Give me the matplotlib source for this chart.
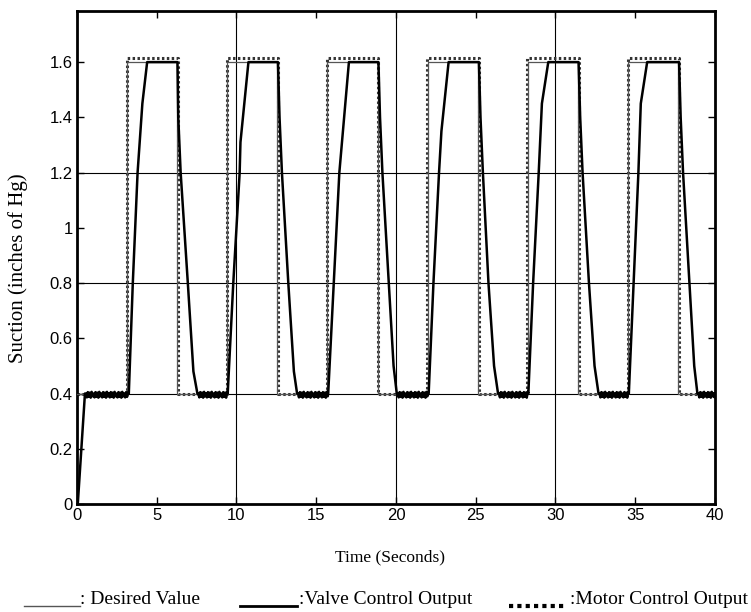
import numpy as np
import matplotlib.pyplot as plt
from matplotlib.lines import Line2D

# desired value: square wave edges (seconds), low / high levels
rise_times = [3.15, 9.42, 15.7, 22.0, 28.25, 34.55]
fall_times = [6.3, 12.57, 18.85, 25.15, 31.4, 37.7]
low_level = 0.4
high_level = 1.6
motor_high = 1.615

# valve control output, key points
valve_t = [0.0, 0.05, 0.5,
           3.25, 3.5, 3.8, 4.1, 4.4, 6.3, 6.35, 6.5, 6.95, 7.3, 7.55,
           9.45, 9.8, 10.2, 10.25, 10.75, 12.6, 12.7, 12.85, 13.25, 13.6, 13.8,
           15.75, 16.1, 16.45, 16.6, 17.05, 18.9, 19.0, 19.15, 19.55, 19.85, 20.05,
           22.05, 22.35, 22.7, 22.85, 23.3, 25.2, 25.3, 25.45, 25.8, 26.15, 26.4,
           28.3, 28.6, 28.95, 29.15, 29.55, 31.45, 31.55, 31.7, 32.1, 32.45, 32.7,
           34.6, 34.9, 35.2, 35.35, 35.75, 37.75, 37.85, 38.0, 38.4, 38.7, 38.9,
           40.0]
valve_y = [0.0, 0.0, 0.4,
           0.4, 0.8, 1.2, 1.45, 1.6, 1.6, 1.4, 1.2, 0.8, 0.48, 0.4,
           0.4, 0.8, 1.2, 1.31, 1.6, 1.6, 1.4, 1.2, 0.8, 0.48, 0.4,
           0.4, 0.8, 1.2, 1.3, 1.6, 1.6, 1.4, 1.2, 0.8, 0.5, 0.4,
           0.4, 0.8, 1.2, 1.35, 1.6, 1.6, 1.4, 1.2, 0.8, 0.5, 0.4,
           0.4, 0.8, 1.2, 1.45, 1.6, 1.6, 1.4, 1.2, 0.8, 0.5, 0.4,
           0.4, 0.8, 1.2, 1.45, 1.6, 1.6, 1.4, 1.2, 0.8, 0.5, 0.4,
           0.4]
# chatter seen on the valve output while it sits at 0.4
ripple = [0.40, 0.386, 0.405, 0.388, 0.403, 0.385, 0.406, 0.39]
ripple_step = 0.06


def square(times_up, times_down, lo, hi, t_end=40.0, shift_up=0.0, shift_down=0.0):
    t, y = [0.0], [lo]
    for r, f in zip(times_up, times_down):
        t += [r + shift_up, r + shift_up, f + shift_down, f + shift_down]
        y += [lo, hi, hi, lo]
    t.append(t_end)
    y.append(lo)
    return t, y


def with_ripple(ts, ys):
    t_out, y_out = [ts[0]], [ys[0]]
    for i in range(1, len(ts)):
        if ys[i - 1] == low_level and ys[i] == low_level:
            tt = ts[i - 1] + ripple_step
            k = 0
            while tt < ts[i]:
                t_out.append(tt)
                y_out.append(ripple[k % len(ripple)])
                tt += ripple_step
                k += 1
        t_out.append(ts[i])
        y_out.append(ys[i])
    return t_out, y_out


plt.rcParams['font.family'] = ['Liberation Sans', 'DejaVu Sans']
fig = plt.figure(figsize=(7.51, 6.12), dpi=100)
ax = fig.add_axes([0.1025, 0.1765, 0.8495, 0.8055])

for gx in [10, 20, 30]:
    ax.axvline(gx, color='black', lw=0.8, zorder=1)
for gy in [0.4, 0.8, 1.2]:
    ax.axhline(gy, color='black', lw=0.8, zorder=1)

dt, dy = square(rise_times, fall_times, low_level, high_level)
mt, my = square(rise_times, fall_times, low_level, motor_high, shift_up=-0.03, shift_down=0.05)
vt, vy = with_ripple(valve_t, valve_y)

ax.plot(mt, my, color='#333333', lw=2.2, linestyle=(0, (0.8, 0.8)), zorder=2)
ax.plot(dt, dy, color='#555555', lw=0.9, zorder=3)
ax.plot(vt, vy, color='black', lw=1.8, zorder=4)

ax.set_xlim(0, 40)
ax.set_ylim(0, 1.785)
ax.set_xticks(np.arange(0, 41, 5))
ax.set_yticks([0, 0.2, 0.4, 0.6, 0.8, 1.0, 1.2, 1.4, 1.6])
ax.set_yticklabels(['0', '0.2', '0.4', '0.6', '0.8', '1', '1.2', '1.4', '1.6'])
ax.tick_params(direction='in', top=True, right=True, length=5, width=1,
               labelsize=12, pad=3)
for s in ax.spines.values():
    s.set_linewidth(2)

fig.text(18 / 751, 1 - 268 / 612, 'Suction (inches of Hg)', family='Liberation Serif',
         fontsize=15, rotation=90, ha='center', va='center')
fig.text(390 / 751, 1 - 557 / 612, 'Time (Seconds)', family='Liberation Serif', fontsize=12.5,
         ha='center', va='center')

# legend row under the chart
ly = 1 - 606 / 612
ty = 1 - 600 / 612
fig.add_artist(Line2D([24 / 751, 80 / 751], [ly, ly], color='#555555', lw=1.0))
fig.text(80 / 751, ty, ': Desired Value', family='Liberation Serif', fontsize=14, va='center')
fig.add_artist(Line2D([240 / 751, 297 / 751], [ly, ly], color='black', lw=2.0))
fig.text(299 / 751, ty, ':Valve Control Output', family='Liberation Serif', fontsize=14, va='center')
fig.add_artist(Line2D([509 / 751, 566 / 751], [ly, ly], color='black', lw=3,
                      linestyle=(0, (1, 1))))
fig.text(570 / 751, ty, ':Motor Control Output', family='Liberation Serif', fontsize=14, va='center')

fig.savefig('out.png', dpi=100)
